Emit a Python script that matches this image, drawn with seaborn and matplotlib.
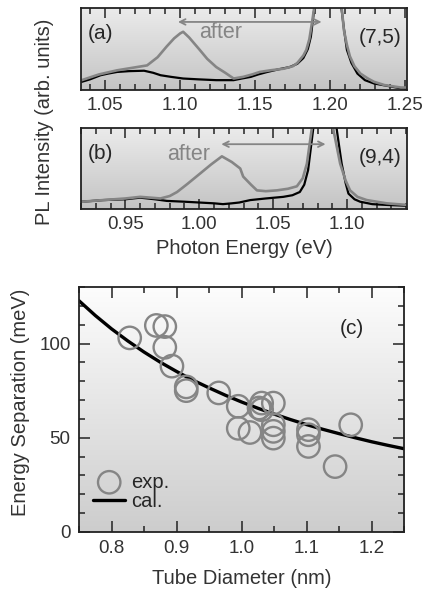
import numpy as np
import pandas as pd
import matplotlib
matplotlib.use("Agg")
import matplotlib.pyplot as plt
from matplotlib.ticker import MultipleLocator
from matplotlib.colors import LinearSegmentedColormap
import seaborn as sns

# ---------------- data ----------------
# panel (a) (7,5)
a_gray_E = [1.0345, 1.046, 1.058, 1.068, 1.078, 1.085, 1.091, 1.096, 1.100, 1.102, 1.106, 1.113,
            1.118, 1.124, 1.130, 1.1356, 1.142, 1.148, 1.153, 1.160, 1.169, 1.175, 1.178, 1.182,
            1.184, 1.186, 1.188, 1.190, 1.198, 1.207, 1.209, 1.211, 1.213, 1.216, 1.220, 1.225,
            1.229, 1.236, 1.247, 1.251]
a_gray_I = [0.12, 0.19, 0.24, 0.27, 0.30, 0.40, 0.53, 0.63, 0.69, 0.71, 0.64, 0.49,
            0.38, 0.28, 0.21, 0.14, 0.16, 0.19, 0.22, 0.24, 0.26, 0.29, 0.33, 0.42,
            0.49, 0.62, 0.85, 1.10, 2.00, 1.10, 0.73, 0.55, 0.41, 0.29, 0.20, 0.14,
            0.10, 0.06, 0.03, 0.03]
a_black_E = [1.0345, 1.040, 1.047, 1.052, 1.058, 1.066, 1.076, 1.082, 1.087, 1.094, 1.102, 1.112,
             1.124, 1.1356, 1.141, 1.147, 1.152, 1.158, 1.165, 1.173, 1.178, 1.182, 1.185, 1.187,
             1.189, 1.191, 1.198, 1.2067, 1.209, 1.211, 1.214, 1.218, 1.223, 1.229, 1.238, 1.247, 1.251]
a_black_I = [0.10, 0.13, 0.18, 0.20, 0.22, 0.23, 0.235, 0.21, 0.18, 0.16, 0.14, 0.13,
             0.12, 0.12, 0.14, 0.16, 0.19, 0.22, 0.25, 0.28, 0.32, 0.39, 0.50, 0.65,
             0.95, 1.20, 2.00, 1.10, 0.75, 0.49, 0.33, 0.20, 0.12, 0.08, 0.05, 0.02, 0.02]

# panel (b) (9,4)
b_gray_E = [0.9207, 0.935, 0.950, 0.960, 0.967, 0.9737, 0.980, 0.985, 0.992, 1.0007, 1.008, 1.0153,
            1.022, 1.0277, 1.0297, 1.035, 1.039, 1.045, 1.0525, 1.060, 1.066, 1.070, 1.0728, 1.076,
            1.078, 1.085, 1.089, 1.0907, 1.0953, 1.099, 1.102, 1.107, 1.1133, 1.1267, 1.1405]
b_gray_I = [0.09, 0.11, 0.13, 0.15, 0.14, 0.13, 0.16, 0.21, 0.31, 0.44, 0.55, 0.65,
            0.58, 0.50, 0.40, 0.30, 0.23, 0.22, 0.23, 0.25, 0.28, 0.38, 0.56, 0.98,
            1.30, 2.00, 1.30, 0.98, 0.56, 0.35, 0.23, 0.15, 0.11, 0.07, 0.05]
b_black_E = [0.9207, 0.935, 0.950, 0.960, 0.970, 0.978, 0.990, 1.000, 1.010, 1.016, 1.022, 1.027,
             1.0345, 1.045, 1.0568, 1.063, 1.068, 1.071, 1.0736, 1.077, 1.080, 1.085, 1.090, 1.093,
             1.0963, 1.099, 1.1009, 1.105, 1.1088, 1.117, 1.127, 1.1405]
b_black_I = [0.09, 0.11, 0.12, 0.14, 0.12, 0.10, 0.09, 0.08, 0.07, 0.06, 0.07, 0.08,
             0.11, 0.13, 0.15, 0.17, 0.21, 0.30, 0.48, 0.98, 1.40, 2.00, 1.40, 0.98,
             0.56, 0.32, 0.19, 0.12, 0.09, 0.06, 0.05, 0.04]

# panel (c)
exp_diam = [0.828, 0.869, 0.882, 0.882, 0.893, 0.915, 0.915, 0.965, 0.995, 0.995, 1.013,
            1.027, 1.031, 1.031, 1.049, 1.049, 1.049, 1.049, 1.103, 1.103, 1.103, 1.144, 1.168]
exp_sep = [103, 109.6, 109, 98, 88, 77, 75, 73.8, 66.7, 55, 52.8,
           65.8, 68.4, 64.9, 68.4, 56.9, 53.4, 49.8, 54.3, 51.6, 45.4, 34.7, 56.9]
cal_diam = [0.75, 0.775, 0.80, 0.825, 0.85, 0.875, 0.90, 0.925, 0.95, 0.975, 1.00,
            1.025, 1.05, 1.075, 1.10, 1.125, 1.15, 1.175, 1.20, 1.225, 1.25]
cal_sep = [122.7, 114.9, 107.8, 101.4, 95.5, 90.1, 85.2, 80.6, 76.5, 72.6, 69.0,
           65.7, 62.6, 59.7, 57.0, 54.5, 52.2, 50.0, 47.9, 46.0, 44.2]

a_ticks = [1.05, 1.10, 1.15, 1.20, 1.25]
b_ticks = [0.95, 1.00, 1.05, 1.10]
c_xticks = [0.8, 0.9, 1.0, 1.1, 1.2]
c_yticks = [0, 50, 100]

# ---------------- style ----------------
sns.set_style("ticks")
plt.rcParams['font.family'] = ['Liberation Sans', 'DejaVu Sans']
plt.rcParams['axes.linewidth'] = 1.3
FS = 13.6      # tick labels
LFS = 14.5     # axis labels / annotations
GRAY = '#858585'
TXT = '#333333'

fig = plt.figure(figsize=(4.3, 5.91), dpi=100)
ax_a = fig.add_axes([81/430, 1-90/591, 326/430, 82/591])
ax_b = fig.add_axes([81/430, 1-209/591, 326/430, 81/591])
ax_c = fig.add_axes([79/430, 1-532/591, 325/430, 245/591])


def gradient(ax, top, bottom):
    # row 0 drawn at the bottom (origin='lower'); value 0 -> bottom colour
    g = np.linspace(0, 1, 256).reshape(-1, 1)
    cmap = LinearSegmentedColormap.from_list('g', [bottom, top])
    ax.imshow(g, cmap=cmap, aspect='auto', extent=[0, 1, 0, 1], origin='lower',
              transform=ax.transAxes, zorder=0, interpolation='bicubic')


for ax, gE, gI, kE, kI, ticks, xlim, lab, chir, arr, txt in [
        (ax_a, a_gray_E, a_gray_I, a_black_E, a_black_I, a_ticks, (1.034, 1.251), '(a)', '(7,5)',
         (1.0967, 1.196, 0.83), (1.127, 0.70)),
        (ax_b, b_gray_E, b_gray_I, b_black_E, b_black_I, b_ticks, (0.920, 1.1405), '(b)', '(9,4)',
         (1.013, 1.0873, 0.80), (0.993, 0.67))]:
    gradient(ax, '#ebebeb', '#c4c4c4')
    sns.lineplot(x=kE, y=kI, ax=ax, color='black', lw=1.6, zorder=3)
    sns.lineplot(x=gE, y=gI, ax=ax, color=GRAY, lw=1.9, zorder=4)
    ax.set_xlim(*xlim)
    ax.set_ylim(0, 1.0)
    ax.set_yticks([])
    ax.set_xticks(ticks)
    ax.set_xticklabels([f"{t:.2f}" for t in ticks])
    ax.xaxis.set_minor_locator(MultipleLocator(0.01))
    ax.tick_params(which='both', direction='in', top=True, bottom=True, labelsize=FS,
                   colors='#222222', labelcolor=TXT, width=1.1, pad=5)
    ax.tick_params(which='major', length=7)
    ax.tick_params(which='minor', length=4)
    ax.annotate('', xy=(arr[0], arr[2]), xytext=(arr[1], arr[2]),
                arrowprops=dict(arrowstyle='<->', color=GRAY, lw=1.3), zorder=5)
    ax.text(txt[0], txt[1], 'after', color=GRAY, fontsize=LFS + 1, ha='center', va='center', zorder=5)
    ax.text(0.02, 0.69, lab, transform=ax.transAxes, fontsize=LFS + 0.5, ha='left', va='center')
    ax.text(0.982, 0.64, chir, transform=ax.transAxes, fontsize=LFS + 0.5, ha='right', va='center')
    ax.set_xlabel('')
    ax.set_ylabel('')

fig.text(244/430, 1-248/591, 'Photon Energy (eV)', fontsize=LFS, ha='center', va='center', color=TXT)
fig.text(45/430, 1-122/591, 'PL Intensity (arb. units)', rotation=90, fontsize=LFS,
         ha='center', va='center', color=TXT)

# panel (c)
gradient(ax_c, '#fdfdfd', '#cdcdcd')
sns.lineplot(x=cal_diam, y=cal_sep, ax=ax_c, color='black', lw=2.4, zorder=3, label='cal.')
sns.scatterplot(x=exp_diam, y=exp_sep, ax=ax_c, marker='o', s=260, facecolor='none',
                edgecolor=GRAY, linewidth=1.7, zorder=4, label='exp.')
ax_c.set_xlim(0.75, 1.25)
ax_c.set_ylim(0, 130)
ax_c.set_xticks(c_xticks)
ax_c.set_xticklabels([f"{t:.1f}" for t in c_xticks])
ax_c.set_yticks(c_yticks)
ax_c.xaxis.set_minor_locator(MultipleLocator(0.05))
ax_c.yaxis.set_minor_locator(MultipleLocator(10))
ax_c.tick_params(which='both', direction='in', top=True, bottom=True, left=True, right=True,
                 labelsize=FS, colors='#222222', labelcolor=TXT, width=1.1, pad=6)
ax_c.tick_params(which='major', length=8)
ax_c.tick_params(which='minor', length=4.5)
ax_c.set_xlabel('')
ax_c.set_ylabel('')
fig.text(242/430, 1-578/591, 'Tube Diameter (nm)', fontsize=LFS, ha='center', va='center', color=TXT)
fig.text(21/430, 1-402/591, 'Energy Separation (meV)', rotation=90, fontsize=LFS,
         ha='center', va='center', color=TXT)
ax_c.text(1.17, 108, '(c)', fontsize=LFS + 0.5, ha='center', va='center')
h, l = ax_c.get_legend_handles_labels()
order = [l.index('exp.'), l.index('cal.')]
ax_c.legend([h[i] for i in order], [l[i] for i in order], loc='lower left', frameon=False,
            fontsize=LFS, handlelength=1.6, handletextpad=0.3, labelspacing=0.0,
            borderaxespad=0.3, bbox_to_anchor=(0.0, 0.03))

for ax in (ax_a, ax_b, ax_c):
    for s in ax.spines.values():
        s.set_color('#222222')
        s.set_zorder(10)

fig.savefig('out.png', dpi=100)
